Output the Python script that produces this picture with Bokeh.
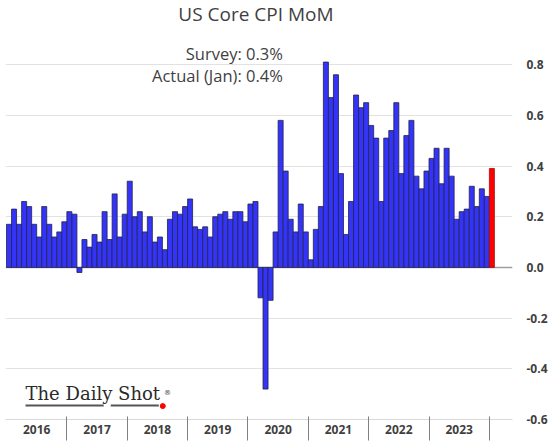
from bokeh.plotting import figure
from bokeh.models import Range1d, FixedTicker, NumeralTickFormatter, Span, Label, ColumnDataSource
from bokeh.embed import file_html
from bokeh.resources import INLINE

# ---- data (US core CPI, month-over-month %, Jan 2016 .. Jan 2024) ----
years = ["2016", "2017", "2018", "2019", "2020", "2021", "2022", "2023"]
mom_2016 = [0.17, 0.23, 0.17, 0.26, 0.24, 0.17, 0.12, 0.24, 0.17, 0.12, 0.14, 0.18]
mom_2017 = [0.22, 0.21, -0.02, 0.11, 0.08, 0.13, 0.10, 0.22, 0.11, 0.29, 0.12, 0.21]
mom_2018 = [0.34, 0.20, 0.22, 0.14, 0.20, 0.10, 0.12, 0.07, 0.19, 0.22, 0.21, 0.24]
mom_2019 = [0.27, 0.16, 0.15, 0.16, 0.12, 0.20, 0.21, 0.22, 0.19, 0.22, 0.22, 0.18]
mom_2020 = [0.25, 0.26, -0.12, -0.48, -0.13, 0.14, 0.58, 0.38, 0.19, 0.14, 0.25, 0.14]
mom_2021 = [0.03, 0.15, 0.24, 0.81, 0.67, 0.76, 0.37, 0.13, 0.26, 0.68, 0.63, 0.65]
mom_2022 = [0.56, 0.51, 0.26, 0.51, 0.54, 0.65, 0.37, 0.52, 0.58, 0.36, 0.31, 0.38]
mom_2023 = [0.43, 0.47, 0.33, 0.47, 0.36, 0.19, 0.22, 0.23, 0.32, 0.24, 0.31, 0.28]
mom_2024 = [0.39]
y_ticks = [-0.6, -0.4, -0.2, 0.0, 0.2, 0.4, 0.6, 0.8]
survey_text = "Survey:  0.3%"
actual_text = "Actual (Jan):  0.4%"
title_text = "US Core CPI MoM"

values = mom_2016 + mom_2017 + mom_2018 + mom_2019 + mom_2020 + mom_2021 + mom_2022 + mom_2023 + mom_2024
idx = list(range(len(values)))
BLUE = "#3434F8"
RED = "#FF0000"
colors = [BLUE] * (len(values) - 1) + [RED]
lines = ["#23234a"] * (len(values) - 1) + ["#9a1010"]

src = ColumnDataSource(dict(x=idx, top=values, fill=colors, line=lines))

SANS = "Open Sans"
TXT = "#3f3f3f"

p = figure(width=558, height=445,
           x_range=Range1d(-0.7, 100.1), y_range=Range1d(-0.6, 1.0529),
           y_axis_location="right",
           output_backend="svg", toolbar_location=None,
           min_border_left=5, min_border_top=0, min_border_right=46, min_border_bottom=26)
p.outline_line_color = None
p.background_fill_color = "white"
p.border_fill_color = "white"

# grid
p.xgrid.visible = False
p.ygrid.grid_line_color = "#E2E2E2"
p.ygrid.grid_line_width = 1

zero = Span(location=0, dimension="width", line_color="#9E9E9E", line_width=1.5, level="underlay")
p.add_layout(zero)

p.vbar(x="x", top="top", bottom=0, width=1.0, source=src,
       fill_color="fill", line_color="line", line_width=0.8)

# right value axis
ya = p.yaxis[0]
ya.ticker = FixedTicker(ticks=y_ticks)
p.ygrid[0].ticker = FixedTicker(ticks=y_ticks)
ya.formatter = NumeralTickFormatter(format="0.0")
ya.axis_line_color = None
ya.major_tick_line_color = None
ya.minor_tick_line_color = None
ya.major_tick_out = 0
ya.major_tick_in = 0
ya.major_label_standoff = 14
ya.major_label_text_font = SANS
ya.major_label_text_font_style = "bold"
ya.major_label_text_font_size = "12px"
ya.major_label_text_color = TXT

# bottom year axis: labels centred on each year, separators between years
centers = [12 * k + 5.5 for k in range(len(years))]
seps = [12 * k + 11.5 for k in range(len(years))]
xa = p.xaxis[0]
xa.ticker = FixedTicker(ticks=centers, minor_ticks=seps)
xa.major_label_overrides = {c: y for c, y in zip(centers, years)}
xa.major_tick_line_color = None
xa.major_tick_out = 0
xa.major_tick_in = 0
xa.minor_tick_line_color = "#808080"
xa.minor_tick_line_width = 1
xa.minor_tick_in = 3
xa.minor_tick_out = 21
xa.axis_line_color = "#D9D9D9"
xa.axis_line_width = 1
xa.major_label_standoff = -16
xa.major_label_text_font = SANS
xa.major_label_text_font_style = "bold"
xa.major_label_text_font_size = "12px"
xa.major_label_text_color = TXT

# title and annotation texts
p.add_layout(Label(x=49.1, y=1.0, text=title_text, text_align="center", text_baseline="middle",
                   text_font=SANS, text_font_size="19px", text_color=TXT))
p.add_layout(Label(x=55.3, y=0.842, text=survey_text, text_align="right", text_baseline="middle",
                   text_font=SANS, text_font_size="16.5px", text_color=TXT))
p.add_layout(Label(x=55.3, y=0.757, text=actual_text, text_align="right", text_baseline="middle",
                   text_font=SANS, text_font_size="16.5px", text_color=TXT))

# logo
p.add_layout(Label(x=3.28, y=-0.537, text="The Daily Shot", text_align="left", text_baseline="bottom",
                   text_font="DejaVu Serif", text_font_size="18px", text_color="#2a2a2a"))
p.add_layout(Label(x=30.8, y=-0.4935, text="®", text_align="left", text_baseline="middle",
                   text_font="DejaVu Serif", text_font_size="7px", text_color="#333333"))
p.segment(x0=[3.28, 20.22], y0=[-0.545, -0.545], x1=[18.82, 29.78], y1=[-0.545, -0.545],
          line_color="#555555", line_width=2)
p.scatter(x=[30.57], y=[-0.547], size=5, fill_color=RED, line_color=RED)

open("out.html", "w").write(file_html(p, INLINE))
